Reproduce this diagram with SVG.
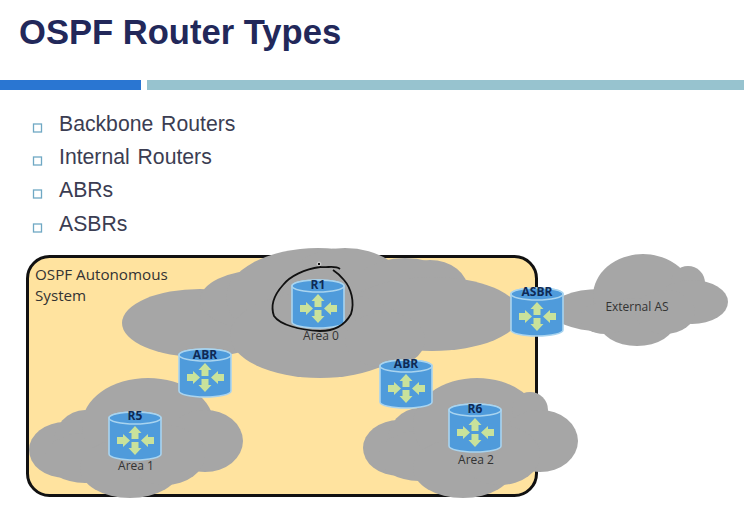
<svg xmlns="http://www.w3.org/2000/svg" xmlns:xlink="http://www.w3.org/1999/xlink" width="744" height="520" viewBox="0 0 744 520">
<style>
.title{font:bold 34.600px "Liberation Sans",Arial,sans-serif;fill:#22285a}
.bul{font:21.200px "Liberation Sans",Arial,sans-serif;fill:#3b3d52;word-spacing:2px}
.box{fill:none;stroke:#6fa8c4;stroke-width:1.3}
.cloud ellipse{fill:#a6a6a6}
.lab{font:12px "Open Sans","Liberation Sans",sans-serif;fill:#333;text-anchor:middle}
.cap{font:15.200px "Open Sans","Liberation Sans",sans-serif;fill:#333}
.rt{font:bold 12px "Open Sans","Liberation Sans",sans-serif;fill:#0f2a55;text-anchor:middle}
.body{fill:#4f9bdb;stroke:#a9d4ef;stroke-width:1.6}
.arr{fill:#c9e29b}
</style>
<defs>
<g id="router">
<path class="body" d="M0 7V43A26 6 0 0 0 52 43V7A26 6 0 0 0 0 7Z"/>
<ellipse class="body" cx="26" cy="7" rx="26" ry="6"/>
<path class="arr" d="M26 15L32.500 22H29.500V28H22.500V22H19.500Z"/>
<path class="arr" d="M26 44L32.500 37H29.500V31H22.500V37H19.500Z"/>
<path class="arr" d="M21 29.500L14 23V26H8V33H14V36Z"/>
<path class="arr" d="M32 29.500L39 23V26H45V33H39V36Z"/>
</g>
</defs>
<rect width="744" height="520" fill="#fff"/>
<text class="title" x="19" y="44">OSPF Router Types</text>
<rect x="0" y="80" width="141" height="10" fill="#2a76d2"/>
<rect x="147" y="80" width="597" height="10" fill="#97c3cf"/>
<g id="bullets">
<rect class="box" x="33.500" y="124" width="8" height="8"/>
<text class="bul" x="59" y="131">Backbone Routers</text>
<rect class="box" x="33.500" y="157" width="8" height="8"/>
<text class="bul" x="59" y="164">Internal Routers</text>
<rect class="box" x="33.500" y="190" width="8" height="8"/>
<text class="bul" x="59" y="197">ABRs</text>
<rect class="box" x="33.500" y="224" width="8" height="8"/>
<text class="bul" x="59" y="231">ASBRs</text>
</g>
<g id="as">
<rect x="27.500" y="256.500" width="509" height="239" rx="22" fill="#ffe39f" stroke="#111" stroke-width="3"/>
<text class="cap" x="35" y="280">OSPF Autonomous</text>
<text class="cap" x="35" y="301">System</text>
</g>
<g id="area0" class="cloud">
<ellipse cx="200" cy="323" rx="78" ry="34"/>
<ellipse cx="262" cy="300" rx="62" ry="30"/>
<ellipse cx="318" cy="298" rx="92" ry="50"/>
<ellipse cx="345" cy="290" rx="62" ry="42"/>
<ellipse cx="430" cy="290" rx="38" ry="30"/>
<ellipse cx="405" cy="300" rx="60" ry="42"/>
<ellipse cx="432" cy="314" rx="88" ry="37"/>
<ellipse cx="320" cy="335" rx="90" ry="43"/>
<ellipse cx="385" cy="340" rx="40" ry="28"/>
<text class="lab" x="321" y="340">Area 0</text>
</g>
<g id="area1" class="cloud">
<ellipse cx="65" cy="450" rx="36" ry="28"/>
<ellipse cx="85" cy="445" rx="32" ry="35"/>
<ellipse cx="85" cy="458" rx="40" ry="25"/>
<ellipse cx="148" cy="425" rx="66" ry="47"/>
<ellipse cx="205" cy="441" rx="38" ry="31"/>
<ellipse cx="130" cy="468" rx="50" ry="30"/>
<ellipse cx="165" cy="455" rx="40" ry="30"/>
<text class="lab" x="136" y="470">Area 1</text>
</g>
<g id="area2" class="cloud">
<ellipse cx="399" cy="448" rx="36" ry="28"/>
<ellipse cx="419" cy="443" rx="32" ry="35"/>
<ellipse cx="419" cy="456" rx="40" ry="25"/>
<ellipse cx="477" cy="425" rx="64" ry="47"/>
<ellipse cx="530" cy="410" rx="18" ry="18"/>
<ellipse cx="540" cy="441" rx="38" ry="31"/>
<ellipse cx="463" cy="468" rx="50" ry="30"/>
<ellipse cx="500" cy="455" rx="40" ry="30"/>
<text class="lab" x="476" y="464">Area 2</text>
</g>
<g id="external-as" class="cloud">
<ellipse cx="600" cy="310" rx="50" ry="21"/>
<ellipse cx="643" cy="296" rx="50" ry="42"/>
<ellipse cx="688" cy="283" rx="17" ry="17"/>
<ellipse cx="692" cy="302" rx="36" ry="22"/>
<ellipse cx="637" cy="322" rx="38" ry="24"/>
<ellipse cx="605" cy="318" rx="25" ry="16"/>
<ellipse cx="665" cy="312" rx="30" ry="22"/>
<text class="lab" x="637" y="311">External AS</text>
</g>
<g id="r1"><use href="#router" x="292" y="279"/><text class="rt" x="318" y="289">R1</text></g>
<g id="abr1"><use href="#router" x="179" y="348"/><text class="rt" x="205" y="359">ABR</text></g>
<g id="r5"><use href="#router" x="109" y="411"/><text class="rt" x="135" y="420">R5</text></g>
<g id="abr2"><use href="#router" x="380" y="359"/><text class="rt" x="406" y="368">ABR</text></g>
<g id="r6"><use href="#router" x="449" y="403"/><text class="rt" x="475" y="413">R6</text></g>
<g id="asbr"><use href="#router" x="511" y="287"/><text class="rt" x="537" y="296">ASBR</text></g>
<g id="annotation">
<path d="M340 269C335 265 328 268 320 267C305 269 290 276 283 285C274 295 270 305 274 316C280 325 300 330 320 331C335 331 345 325 351 314C355 302 351 288 344 280C340 275 336 272 333 270" fill="none" stroke="#111" stroke-width="1.800"/>
<circle cx="319" cy="264" r="1.800" fill="#111" stroke="#fff" stroke-width="0.800"/>
</g>
</svg>
